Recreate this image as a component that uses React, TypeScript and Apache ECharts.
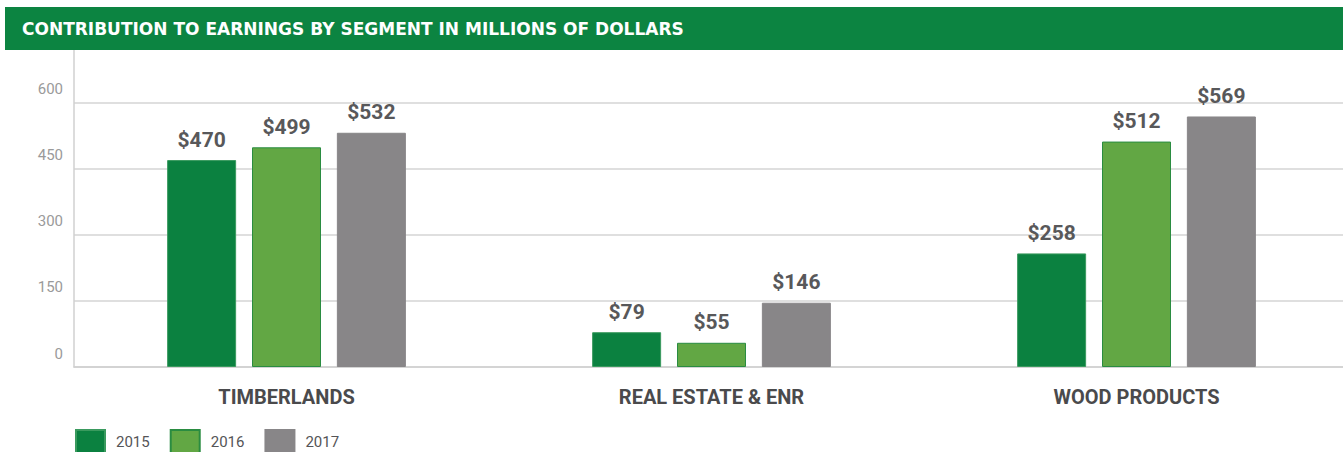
import React, { useEffect, useRef } from "react";
import * as echarts from "echarts";

const title = "CONTRIBUTION TO EARNINGS BY SEGMENT IN MILLIONS OF DOLLARS";
const categories = ["TIMBERLANDS", "REAL ESTATE & ENR", "WOOD PRODUCTS"];
const years = ["2015", "2016", "2017"];
const values2015 = [470, 79, 258];
const values2016 = [499, 55, 512];
const values2017 = [532, 146, 569];
const yTicks = { min: 0, max: 720, interval: 150 };

const colors = ["#0b8140", "#62a744", "#888688"];
const borders = ["#3a9a5e", "#2a8c41", "#888688"];

export default function App() {
  const ref = useRef<HTMLDivElement>(null);
  useEffect(() => {
    document.body.style.margin = "0";
    document.body.style.overflow = "hidden";
    const chart = echarts.init(ref.current!, null, { renderer: "svg" });
    const seriesData = [values2015, values2016, values2017];
    chart.setOption({
      animation: false,
      textStyle: { fontFamily: "Roboto, 'Liberation Sans', sans-serif" },
      graphic: [
        {
          type: "rect",
          shape: { x: 5, y: 7, width: 1344, height: 43 },
          style: { fill: "#0c8441" },
          z: 10,
        },
        {
          type: "text",
          x: 22,
          y: 29,
          z: 11,
          style: {
            text: title,
            fill: "#ffffff",
            font: "bold 17px 'DejaVu Sans', 'Liberation Sans', sans-serif",
            verticalAlign: "middle",
          },
        },
      ],
      grid: { left: 74, right: 0, top: 50, bottom: 85, containLabel: false },
      legend: {
        left: 75,
        top: 429,
        padding: 0,
        itemWidth: 29,
        itemHeight: 23,
        itemGap: 20,
        icon: "rect",
        data: years,
        textStyle: { fontSize: 15, color: "#555557", padding: [0, 0, 0, 6] },
      },
      xAxis: {
        type: "category",
        data: categories,
        axisLine: { show: true, lineStyle: { color: "#d0d0d0", width: 1.5 } },
        axisTick: { show: false },
        axisLabel: {
          margin: 20,
          fontSize: 20,
          fontWeight: "bold",
          color: "#4a4a4c",
        },
      },
      yAxis: {
        type: "value",
        min: yTicks.min,
        max: yTicks.max,
        interval: yTicks.interval,
        axisLine: { show: true, lineStyle: { color: "#d0d0d0", width: 1.5 } },
        axisTick: { show: false },
        splitLine: { show: true, showMaxLine: false, lineStyle: { color: "#d4d4d4", width: 1.5 } },
        axisLabel: {
          showMaxLabel: false,
          margin: 11,
          fontSize: 15,
          color: "#9a9a9a",
          verticalAlign: "bottom",
          padding: [0, 0, 6, 0],
        },
      },
      series: years.map((y, i) => ({
        name: y,
        type: "bar",
        data: seriesData[i],
        barWidth: 69,
        barGap: "23%",
        itemStyle: { color: colors[i], borderColor: borders[i], borderWidth: 1 },
        label: {
          show: true,
          position: "top",
          distance: 10,
          formatter: "${c}",
          fontSize: 21,
          fontWeight: "bold",
          color: "#58585a",
        },
      })),
    });
    return () => chart.dispose();
  }, []);
  return <div ref={ref} style={{ width: 1349, height: 452 }} />;
}
